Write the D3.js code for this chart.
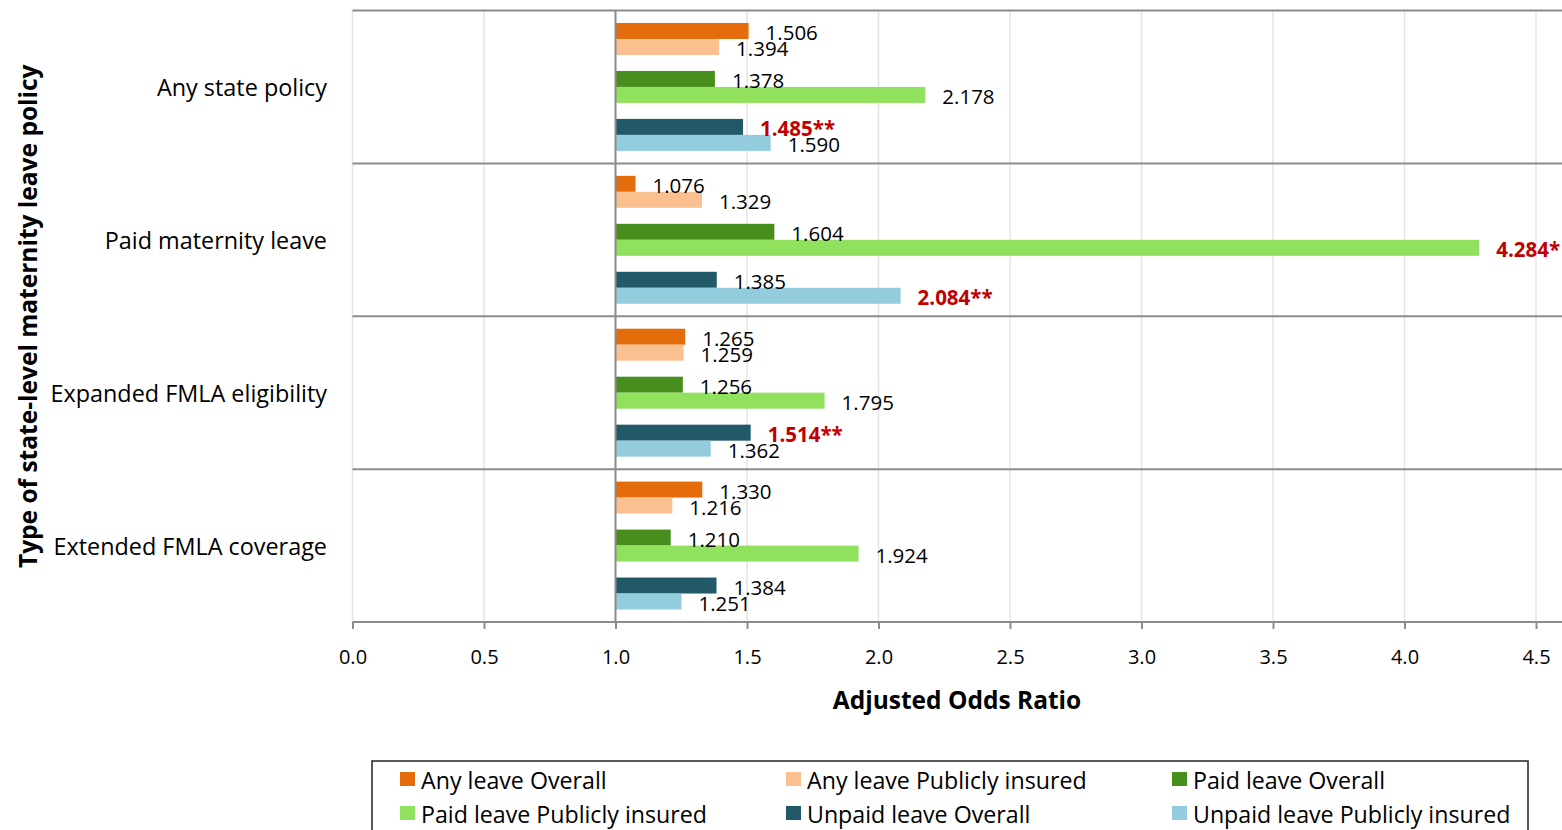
<!DOCTYPE html>
<html>
<head>
<meta charset="utf-8">
<script src="https://cdn.jsdelivr.net/npm/d3@7"></script>
<style>
  html, body { margin: 0; padding: 0; background: #fff; }
  svg { display: block; font-family: "Open Sans", "Noto Sans", sans-serif; }
</style>
</head>
<body>
<svg id="chart" width="1562" height="830"></svg>
<script>
// Policy categories (top to bottom)
const categories = ["Any state policy", "Paid maternity leave", "Expanded FMLA eligibility", "Extended FMLA coverage"];

// Series, in bar order within each category
const seriesNames = [
  "Any leave Overall", "Any leave Publicly insured",
  "Paid leave Overall", "Paid leave Publicly insured",
  "Unpaid leave Overall", "Unpaid leave Publicly insured"
];
const seriesColors = ["#E46C0A", "#FAC090", "#478E1C", "#8FE15E", "#215968", "#93CDDD"];

// Adjusted odds ratios per series, one value per category
const anyOverall      = [1.506, 1.076, 1.265, 1.330];
const anyPublic       = [1.394, 1.329, 1.259, 1.216];
const paidOverall     = [1.378, 1.604, 1.256, 1.210];
const paidPublic      = [2.178, 4.284, 1.795, 1.924];
const unpaidOverall   = [1.485, 1.385, 1.514, 1.384];
const unpaidPublic    = [1.590, 2.084, 1.362, 1.251];

// Significance markers per series ("" = not significant)
const anyOverallSig    = ["", "", "", ""];
const anyPublicSig     = ["", "", "", ""];
const paidOverallSig   = ["", "", "", ""];
const paidPublicSig    = ["", "*", "", ""];
const unpaidOverallSig = ["**", "", "**", ""];
const unpaidPublicSig  = ["", "**", "", ""];

const xTicks = [0, 0.5, 1.0, 1.5, 2.0, 2.5, 3.0, 3.5, 4.0, 4.5];
const baseline = 1.0;

const seriesValues = [anyOverall, anyPublic, paidOverall, paidPublic, unpaidOverall, unpaidPublic];
const seriesSig = [anyOverallSig, anyPublicSig, paidOverallSig, paidPublicSig, unpaidOverallSig, unpaidPublicSig];

const rows = [];
categories.forEach((c, ci) => {
  seriesNames.forEach((s, si) => {
    rows.push({ category: c, si, value: seriesValues[si][ci], sig: seriesSig[si][ci] });
  });
});

// Layout
const plotLeft = 352.5, plotRight = 1562, axisEnd = 1536, plotTop = 10.5, plotBottom = 622;

const svg = d3.select("#chart");

const x = d3.scaleLinear().domain([0, 4.5]).range([plotLeft, axisEnd]);
const y = d3.scaleBand().domain(categories).range([plotTop, plotBottom]).padding(0);
// three pairs of bars inside each category band
const pairScale = d3.scaleBand().domain([0, 1, 2]).range([0, y.bandwidth()])
  .paddingInner(1 / 3).paddingOuter(0.26);
const barH = pairScale.bandwidth() / 2;
const barY = d => y(d.category) + pairScale(Math.floor(d.si / 2)) + (d.si % 2) * barH;

// vertical gridlines
svg.append("g").selectAll("line").data(xTicks).join("line")
  .attr("x1", d => x(d)).attr("x2", d => x(d))
  .attr("y1", plotTop).attr("y2", plotBottom)
  .attr("stroke", "#e4e4e4").attr("stroke-width", 1.5);

// horizontal category separators (top edge + between bands)
svg.append("g").selectAll("line").data(categories).join("line")
  .attr("x1", plotLeft).attr("x2", plotRight)
  .attr("y1", d => y(d)).attr("y2", d => y(d))
  .attr("stroke", "#8c8c8c").attr("stroke-width", 2);

// bars
svg.append("g").selectAll("rect").data(rows).join("rect")
  .attr("x", x(baseline))
  .attr("y", barY)
  .attr("width", d => x(d.value) - x(baseline))
  .attr("height", barH)
  .attr("fill", d => seriesColors[d.si]);

// value axis line through 1.0
svg.append("line")
  .attr("x1", x(baseline)).attr("x2", x(baseline))
  .attr("y1", plotTop).attr("y2", plotBottom)
  .attr("stroke", "#8c8c8c").attr("stroke-width", 2);

// value labels
svg.append("g").selectAll("text").data(rows).join("text")
  .attr("x", d => x(d.value) + 17)
  .attr("y", d => barY(d) + barH / 2 + 1)
  .attr("dominant-baseline", "central")
  .attr("font-size", 20.5)
  .attr("font-weight", d => d.sig ? "bold" : "normal")
  .attr("fill", d => d.sig ? "#C00000" : "#000")
  .text(d => d.value.toFixed(3) + d.sig);

// bottom axis
const xAxis = svg.append("g")
  .attr("transform", `translate(0,${plotBottom})`)
  .call(d3.axisBottom(x).tickValues(xTicks).tickFormat(d3.format(".1f"))
    .tickSize(7).tickSizeOuter(0).tickPadding(21));
xAxis.select(".domain").remove();
xAxis.append("line").attr("x1", plotLeft).attr("x2", plotRight)
  .attr("stroke", "#8c8c8c").attr("stroke-width", 2);
xAxis.selectAll(".tick line").attr("stroke", "#8c8c8c").attr("stroke-width", 2);
xAxis.selectAll(".tick text").attr("font-size", 20).attr("fill", "#000")
  .attr("font-family", "'Open Sans', 'Noto Sans', sans-serif");

// category labels
svg.append("g").selectAll("text").data(categories).join("text")
  .attr("x", 327)
  .attr("y", d => y(d) + y.bandwidth() / 2)
  .attr("text-anchor", "end")
  .attr("dominant-baseline", "central")
  .attr("font-size", 23.4)
  .text(d => d);

// axis titles
svg.append("text")
  .attr("x", 957).attr("y", 699)
  .attr("text-anchor", "middle").attr("dominant-baseline", "central")
  .attr("font-size", 24.5).attr("font-weight", "bold")
  .text("Adjusted Odds Ratio");

svg.append("text")
  .attr("transform", `translate(27,${(plotTop + plotBottom) / 2}) rotate(-90)`)
  .attr("text-anchor", "middle").attr("dominant-baseline", "central")
  .attr("font-size", 24.5).attr("font-weight", "bold")
  .text("Type of state-level maternity leave policy");

// legend
const legend = svg.append("g");
legend.append("rect")
  .attr("x", 372).attr("y", 761).attr("width", 1156).attr("height", 70)
  .attr("fill", "#fff").attr("stroke", "#222").attr("stroke-width", 1.5);
const colX = [400, 786, 1172], rowY = [779, 813];
const items = legend.selectAll("g").data(seriesNames).join("g")
  .attr("transform", (d, i) => `translate(${colX[i % 3]},${rowY[Math.floor(i / 3)]})`);
items.append("rect").attr("x", 0).attr("y", -7).attr("width", 15).attr("height", 14)
  .attr("fill", (d, i) => seriesColors[i]);
items.append("text").attr("x", 21).attr("y", 1)
  .attr("dominant-baseline", "central").attr("font-size", 23.2)
  .text(d => d);
</script>
</body>
</html>
